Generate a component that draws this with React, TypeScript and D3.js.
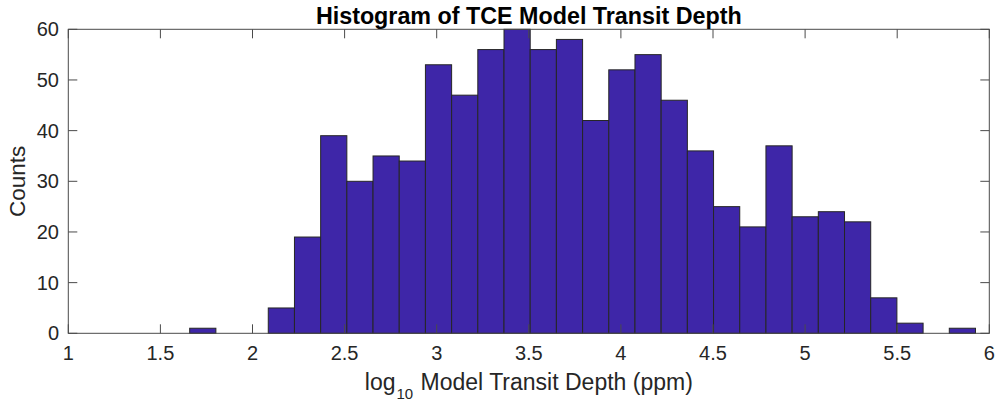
import React from "react";
import * as d3 from "d3";

const binStart = 1.659;
const binWidth = 0.1422;
const counts = [1, 0, 0, 5, 19, 39, 30, 35, 34, 53, 47, 56, 60, 56, 58, 42, 52, 55, 46, 36, 25, 21, 37, 23, 24, 22, 7, 2, 0, 1];
const xTicks = [1, 1.5, 2, 2.5, 3, 3.5, 4, 4.5, 5, 5.5, 6];
const yTicks = [0, 10, 20, 30, 40, 50, 60];
const title = "Histogram of TCE Model Transit Depth";
const yLabel = "Counts";

const W = 995, H = 400;
const M = { left: 68.3, right: 989.3, top: 29.3, bottom: 333.3 };
const FONT = "'Liberation Sans', Arial, Helvetica, sans-serif";
const AX = "#4a4a4a";
const TXT = "#262626";

export default function App() {
  const x = d3.scaleLinear().domain([1, 6]).range([M.left, M.right]);
  const y = d3.scaleLinear().domain([0, 60]).range([M.bottom, M.top]);
  const bins = counts.map((c, i) => ({ x0: binStart + i * binWidth, x1: binStart + (i + 1) * binWidth, c }));
  const tl = 9;
  return (
    <svg width={W} height={H} style={{ position: "absolute", left: 0, top: 0, background: "#fff" }}>
      <g>
        {bins.map((b, i) =>
          b.c > 0 ? (
            <rect key={i} x={x(b.x0)} y={y(b.c)} width={x(b.x1) - x(b.x0)} height={y(0) - y(b.c)}
              fill="rgb(62,38,168)" stroke="#262626" strokeWidth={1} />
          ) : null
        )}
      </g>
      <rect x={M.left} y={M.top} width={M.right - M.left} height={M.bottom - M.top} fill="none" stroke={AX} strokeWidth={1} />
      {xTicks.map((t) => (
        <g key={"x" + t}>
          <line x1={x(t)} x2={x(t)} y1={M.bottom} y2={M.bottom - tl} stroke={AX} />
          <line x1={x(t)} x2={x(t)} y1={M.top} y2={M.top + tl} stroke={AX} />
          <text x={x(t)} y={359.5} textAnchor="middle" fontFamily={FONT} fontSize={20} fill={TXT}>{String(t)}</text>
        </g>
      ))}
      {yTicks.map((t) => (
        <g key={"y" + t}>
          <line x1={M.left} x2={M.left + tl} y1={y(t)} y2={y(t)} stroke={AX} />
          <line x1={M.right} x2={M.right - tl} y1={y(t)} y2={y(t)} stroke={AX} />
          <text x={59} y={y(t)} dy="0.35em" textAnchor="end" fontFamily={FONT} fontSize={20} fill={TXT}>{String(t)}</text>
        </g>
      ))}
      <text x={(M.left + M.right) / 2} y={23.5} textAnchor="middle" fontFamily={FONT} fontSize={23.3} fontWeight="bold" fill="#000">{title}</text>
      <text x={(M.left + M.right) / 2} y={390} textAnchor="middle" fontFamily={FONT} fontSize={23} fill={TXT}>
        log<tspan fontSize={15} dx={1} dy={8.5}>10</tspan><tspan dx={1} dy={-8.5}> Model Transit Depth (ppm)</tspan>
      </text>
      <text transform={`translate(25,${(M.top + M.bottom) / 2}) rotate(-90)`} textAnchor="middle" fontFamily={FONT} fontSize={22.5} fill={TXT}>{yLabel}</text>
    </svg>
  );
}
